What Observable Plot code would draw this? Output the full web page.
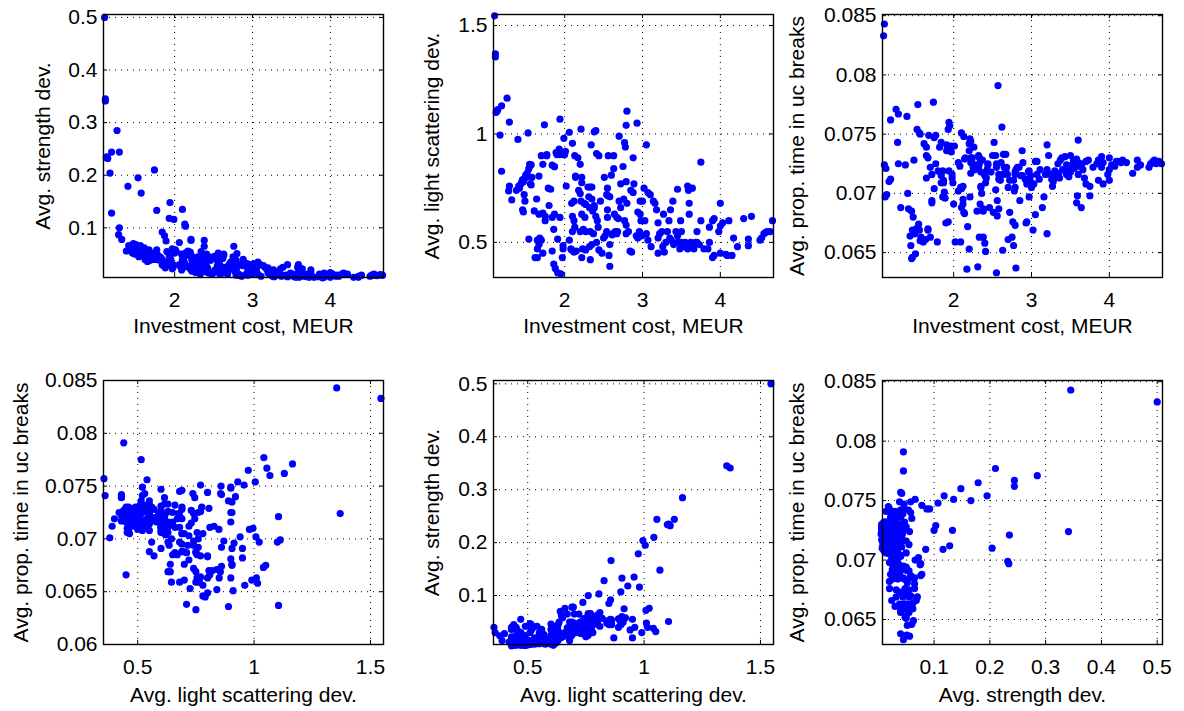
<!DOCTYPE html>
<html>
<head>
<meta charset="utf-8">
<script src="https://cdn.jsdelivr.net/npm/d3@7"></script>
<script src="https://cdn.jsdelivr.net/npm/@observablehq/plot@0.6"></script>
<style>
  html, body { margin: 0; padding: 0; background: #fff; }
  #chart { position: relative; width: 1184px; height: 711px; overflow: hidden; background: #fff; }
  #chart svg { position: absolute; }
</style>
</head>
<body>
<div id="chart"></div>
<script>
// Each row: [investment cost (MEUR), avg. light scattering dev., avg. strength dev., avg. prop. time in uc breaks]
const extremes = [
  [1.10, 1.545, 0.500, 0.0833], [1.11, 1.355, 0.345, 0.0843], [1.11, 1.370, 0.341, 0.0724],
  [1.26, 1.165, 0.285, 0.0771], [1.19, 1.130, 0.244, 0.0762], [1.29, 1.055, 0.244, 0.0767],
  [1.13, 1.105, 0.235, 0.0721], [1.14, 1.112, 0.232, 0.0699], [1.12, 1.100, 0.234, 0.0697],
  [1.17, 0.995, 0.204, 0.0710], [1.53, 1.005, 0.195, 0.0754], [1.74, 1.042, 0.210, 0.0777],
  [1.40, 0.975, 0.179, 0.0765], [1.57, 0.858, 0.166, 0.0750], [1.94, 1.068, 0.148, 0.0760],
  [1.77, 0.905, 0.133, 0.0725], [2.10, 0.957, 0.135, 0.0751], [1.19, 0.828, 0.128, 0.0712],
  [1.93, 0.930, 0.118, 0.0754], [1.99, 0.980, 0.116, 0.0709], [2.13, 0.900, 0.107, 0.0748],
  [2.14, 0.806, 0.103, 0.0729], [1.29, 0.760, 0.100, 0.0725], [1.28, 0.737, 0.087, 0.0743],
  [1.32, 0.696, 0.078, 0.0688], [1.84, 0.856, 0.092, 0.0743], [1.87, 0.849, 0.085, 0.0709],
  [1.89, 0.914, 0.075, 0.0696], [2.06, 1.008, 0.072, 0.0702], [2.21, 1.022, 0.076, 0.0697],
  [2.21, 0.690, 0.078, 0.0746], [2.38, 0.660, 0.076, 0.0687], [2.38, 0.670, 0.065, 0.0685],
  [2.76, 0.700, 0.065, 0.0676], [2.38, 1.010, 0.048, 0.0663], [2.40, 1.015, 0.040, 0.0658],
  [2.79, 1.040, 0.038, 0.0673], [2.80, 1.105, 0.051, 0.0637], [2.93, 1.050, 0.032, 0.0675],
  [2.70, 0.990, 0.030, 0.0661], [3.05, 0.950, 0.020, 0.0682]
];
const costBand1 = [
  [1.42, 0.750, 0.058, 0.0687], [1.44, 0.770, 0.062, 0.0664], [1.45, 0.780, 0.055, 0.0656],
  [1.47, 0.780, 0.060, 0.0646], [1.46, 0.790, 0.052, 0.0645], [1.48, 0.720, 0.065, 0.0680],
  [1.49, 0.690, 0.050, 0.0728], [1.46, 0.650, 0.058, 0.0685], [1.47, 0.640, 0.070, 0.0669],
  [1.50, 0.810, 0.068, 0.0666], [1.51, 0.800, 0.063, 0.0649], [1.52, 0.820, 0.057, 0.0670],
  [1.54, 0.840, 0.052, 0.0671], [1.55, 0.860, 0.047, 0.0674], [1.56, 0.855, 0.055, 0.0669],
  [1.54, 0.515, 0.045, 0.0775], [1.56, 0.770, 0.066, 0.0751], [1.57, 0.765, 0.049, 0.0660],
  [1.58, 0.800, 0.060, 0.0663], [1.64, 0.700, 0.048, 0.0661], [1.61, 0.645, 0.062, 0.0659],
  [1.67, 0.630, 0.044, 0.0669], [1.72, 0.635, 0.050, 0.0694], [1.62, 0.430, 0.040, 0.0742],
  [1.65, 0.430, 0.036, 0.0739], [1.65, 0.510, 0.047, 0.0732], [1.67, 0.490, 0.042, 0.0730],
  [1.65, 0.470, 0.055, 0.0713], [1.68, 0.520, 0.038, 0.0749], [1.70, 0.510, 0.043, 0.0722],
  [1.72, 0.450, 0.040, 0.0716], [1.67, 0.806, 0.058, 0.0670], [1.70, 0.900, 0.052, 0.0663],
  [1.72, 0.860, 0.045, 0.0692], [1.75, 0.620, 0.040, 0.0704], [1.75, 0.600, 0.046, 0.0747],
  [1.77, 0.900, 0.058, 0.0749], [1.79, 0.750, 0.047, 0.0659], [1.82, 0.745, 0.044, 0.0739],
  [1.80, 0.670, 0.039, 0.0719], [1.38, 0.740, 0.056, 0.0724], [1.41, 0.760, 0.066, 0.0700]
];
const costBand2 = [
  [1.84, 0.615, 0.040, 0.0715], [1.87, 0.630, 0.034, 0.0711], [1.84, 0.460, 0.030, 0.0709],
  [1.86, 0.560, 0.036, 0.0697], [1.86, 0.400, 0.028, 0.0719], [1.88, 0.380, 0.024, 0.0701],
  [1.91, 0.360, 0.030, 0.0741], [1.95, 0.355, 0.040, 0.0757], [1.90, 0.905, 0.055, 0.0675],
  [1.93, 0.905, 0.048, 0.0676], [1.97, 0.905, 0.060, 0.0735], [2.00, 0.905, 0.052, 0.0691],
  [1.91, 0.515, 0.035, 0.0736], [1.94, 0.615, 0.042, 0.0719], [1.98, 0.485, 0.025, 0.0716],
  [1.98, 0.470, 0.030, 0.0713], [1.97, 0.430, 0.022, 0.0740], [2.02, 0.760, 0.055, 0.0659],
  [2.01, 0.920, 0.058, 0.0740], [2.06, 0.510, 0.030, 0.0726], [2.08, 0.470, 0.025, 0.0723],
  [2.09, 0.465, 0.020, 0.0705], [2.12, 0.455, 0.035, 0.0706], [2.15, 0.460, 0.028, 0.0730],
  [2.09, 0.680, 0.050, 0.0659], [2.12, 0.690, 0.045, 0.0695], [2.10, 0.620, 0.040, 0.0704],
  [2.12, 0.600, 0.036, 0.0691], [2.10, 0.550, 0.030, 0.0688], [2.13, 0.570, 0.026, 0.0684],
  [2.14, 0.800, 0.052, 0.0683], [2.17, 0.890, 0.056, 0.0636], [2.18, 0.740, 0.048, 0.0672],
  [2.20, 0.725, 0.050, 0.0653], [2.20, 0.860, 0.054, 0.0742], [2.22, 0.800, 0.046, 0.0744],
  [2.22, 0.775, 0.040, 0.0730], [2.25, 0.680, 0.042, 0.0722], [2.27, 0.675, 0.035, 0.0724],
  [2.22, 0.630, 0.030, 0.0726], [2.26, 0.615, 0.028, 0.0739], [2.20, 0.550, 0.022, 0.0736],
  [2.24, 0.560, 0.018, 0.0730], [2.27, 0.550, 0.025, 0.0722], [2.23, 0.470, 0.020, 0.0728],
  [2.27, 0.465, 0.015, 0.0720], [2.22, 0.430, 0.018, 0.0717]
];
const costBand3 = [
  [2.30, 0.755, 0.045, 0.0685], [2.33, 0.755, 0.038, 0.0663], [2.35, 0.755, 0.050, 0.0706],
  [2.31, 0.710, 0.040, 0.0638], [2.35, 0.700, 0.035, 0.0705], [2.32, 0.660, 0.030, 0.0732],
  [2.36, 0.645, 0.028, 0.0700], [2.33, 0.550, 0.022, 0.0730], [2.37, 0.540, 0.018, 0.0728],
  [2.32, 0.480, 0.015, 0.0722], [2.35, 0.490, 0.020, 0.0718], [2.33, 0.420, 0.012, 0.0725],
  [2.34, 0.950, 0.055, 0.0691], [2.41, 0.910, 0.050, 0.0651], [2.44, 0.900, 0.045, 0.0725],
  [2.40, 0.620, 0.030, 0.0715], [2.42, 0.600, 0.025, 0.0713], [2.43, 0.570, 0.020, 0.0720],
  [2.41, 0.500, 0.016, 0.0709], [2.44, 0.465, 0.014, 0.0724], [2.48, 0.450, 0.012, 0.0718],
  [2.46, 0.690, 0.038, 0.0688], [2.51, 0.800, 0.046, 0.0684], [2.56, 0.900, 0.052, 0.0681],
  [2.55, 0.750, 0.045, 0.0633], [2.52, 0.530, 0.020, 0.0743], [2.54, 0.550, 0.018, 0.0732],
  [2.50, 0.520, 0.015, 0.0732], [2.54, 0.720, 0.040, 0.0703], [2.56, 0.715, 0.035, 0.0694],
  [2.58, 0.710, 0.030, 0.0687], [2.55, 0.650, 0.028, 0.0725], [2.55, 0.615, 0.024, 0.0722],
  [2.58, 0.490, 0.012, 0.0716], [2.57, 0.440, 0.045, 0.0791], [2.58, 0.390, 0.015, 0.0712],
  [2.62, 0.540, 0.042, 0.0756], [2.60, 0.810, 0.042, 0.0711], [2.63, 0.840, 0.048, 0.0652],
  [2.63, 0.900, 0.050, 0.0716], [2.65, 0.550, 0.020, 0.0722], [2.67, 0.540, 0.016, 0.0719],
  [2.61, 0.535, 0.014, 0.0726], [2.64, 0.630, 0.025, 0.0733], [2.67, 0.615, 0.022, 0.0733],
  [2.72, 0.770, 0.035, 0.0684], [2.70, 0.690, 0.030, 0.0705], [2.72, 0.660, 0.026, 0.0711],
  [2.69, 0.610, 0.020, 0.0716], [2.68, 0.550, 0.012, 0.0722], [2.75, 0.850, 0.045, 0.0663],
  [2.77, 0.960, 0.040, 0.0656], [2.78, 0.940, 0.035, 0.0702], [2.79, 0.780, 0.030, 0.0705],
  [2.77, 0.600, 0.018, 0.0711], [2.79, 0.580, 0.015, 0.0716], [2.82, 0.550, 0.012, 0.0722],
  [2.79, 0.540, 0.010, 0.0718]
];
const costBand4 = [
  [2.84, 0.460, 0.010, 0.0722], [2.86, 0.455, 0.008, 0.0715], [2.85, 0.740, 0.030, 0.0694],
  [2.88, 0.730, 0.028, 0.0715], [2.80, 0.680, 0.024, 0.0720], [2.89, 0.770, 0.035, 0.0726],
  [2.88, 0.890, 0.040, 0.0736], [2.92, 0.530, 0.012, 0.0712], [2.94, 0.520, 0.010, 0.0708],
  [2.96, 0.550, 0.015, 0.0718], [2.99, 0.530, 0.012, 0.0715], [2.94, 0.640, 0.020, 0.0676],
  [2.97, 0.630, 0.025, 0.0697], [2.98, 0.600, 0.018, 0.0711], [2.97, 0.690, 0.030, 0.0719],
  [3.00, 0.690, 0.028, 0.0705], [3.02, 0.750, 0.032, 0.0669], [3.07, 0.730, 0.035, 0.0727],
  [3.10, 0.720, 0.030, 0.0712], [3.03, 0.600, 0.020, 0.0708], [3.05, 0.540, 0.015, 0.0727],
  [3.07, 0.510, 0.012, 0.0716], [3.11, 0.480, 0.008, 0.0720], [3.14, 0.690, 0.028, 0.0688],
  [3.16, 0.680, 0.025, 0.0697], [3.18, 0.650, 0.022, 0.0716], [3.20, 0.590, 0.018, 0.0720],
  [3.22, 0.540, 0.012, 0.0732], [3.25, 0.550, 0.010, 0.0716], [3.20, 0.520, 0.014, 0.0741],
  [3.26, 0.480, 0.008, 0.0712], [3.20, 0.450, 0.024, 0.0666], [3.28, 0.455, 0.007, 0.0710],
  [3.27, 0.630, 0.020, 0.0706], [3.32, 0.550, 0.012, 0.0714], [3.34, 0.600, 0.015, 0.0725],
  [3.37, 0.510, 0.008, 0.0728], [3.36, 0.650, 0.022, 0.0713], [3.39, 0.690, 0.025, 0.0730],
  [3.43, 0.550, 0.010, 0.0731], [3.45, 0.530, 0.008, 0.0716], [3.45, 0.745, 0.030, 0.0719],
  [3.49, 0.600, 0.014, 0.0722], [3.50, 0.550, 0.010, 0.0732], [3.40, 0.490, 0.009, 0.0720],
  [3.45, 0.500, 0.007, 0.0724], [3.30, 0.500, 0.011, 0.0719], [3.35, 0.520, 0.013, 0.0717],
  [3.48, 0.470, 0.012, 0.0714]
];
const costBand5 = [
  [3.53, 0.490, 0.008, 0.0725], [3.56, 0.490, 0.006, 0.0724], [3.58, 0.760, 0.025, 0.0692],
  [3.59, 0.740, 0.030, 0.0698], [3.64, 0.750, 0.022, 0.0688], [3.60, 0.680, 0.018, 0.0745],
  [3.60, 0.630, 0.015, 0.0716], [3.54, 0.480, 0.007, 0.0728], [3.60, 0.485, 0.006, 0.0726],
  [3.65, 0.480, 0.008, 0.0725], [3.68, 0.500, 0.010, 0.0713], [3.70, 0.500, 0.007, 0.0727],
  [3.73, 0.490, 0.006, 0.0728], [3.70, 0.550, 0.012, 0.0708], [3.75, 0.600, 0.014, 0.0706],
  [3.75, 0.870, 0.020, 0.0698], [3.79, 0.470, 0.006, 0.0722], [3.84, 0.470, 0.007, 0.0725],
  [3.86, 0.500, 0.009, 0.0711], [3.86, 0.570, 0.012, 0.0728], [3.90, 0.600, 0.010, 0.0731],
  [3.92, 0.610, 0.014, 0.0708], [3.90, 0.430, 0.005, 0.0722], [3.92, 0.440, 0.006, 0.0726],
  [4.00, 0.680, 0.015, 0.0711], [3.98, 0.550, 0.010, 0.0716], [4.00, 0.575, 0.008, 0.0720],
  [4.03, 0.590, 0.012, 0.0724], [4.00, 0.450, 0.006, 0.0730], [4.07, 0.445, 0.008, 0.0723],
  [4.09, 0.440, 0.010, 0.0727], [4.15, 0.440, 0.012, 0.0726], [4.11, 0.600, 0.008, 0.0727],
  [4.17, 0.520, 0.014, 0.0728], [4.22, 0.480, 0.012, 0.0726], [4.30, 0.610, 0.006, 0.0717],
  [4.40, 0.620, 0.010, 0.0724], [4.36, 0.515, 0.008, 0.0728], [4.36, 0.485, 0.006, 0.0722],
  [4.51, 0.510, 0.008, 0.0722], [4.53, 0.520, 0.010, 0.0725], [4.56, 0.540, 0.012, 0.0727],
  [4.58, 0.545, 0.010, 0.0728], [4.60, 0.550, 0.009, 0.0725], [4.64, 0.550, 0.011, 0.0727],
  [4.67, 0.600, 0.010, 0.0725], [3.50, 0.500, 0.010, 0.0718], [3.55, 0.500, 0.012, 0.0721],
  [3.62, 0.500, 0.009, 0.0723], [3.58, 0.470, 0.008, 0.0729], [3.66, 0.470, 0.010, 0.0720]
];

// Axis tick values
const costTicks = [2, 3, 4];
const strengthTicks = [0.1, 0.2, 0.3, 0.4, 0.5];
const lightTicks = [0.5, 1, 1.5];
const propTicks = [0.065, 0.07, 0.075, 0.08, 0.085];
const propTicksWide = [0.06, 0.065, 0.07, 0.075, 0.08, 0.085];

// Axis labels
const costLabel = "Investment cost, MEUR";
const lightLabel = "Avg. light scattering dev.";
const strengthLabel = "Avg. strength dev.";
const propLabel = "Avg. prop. time in uc breaks";

const data = [...extremes, ...costBand1, ...costBand2, ...costBand3, ...costBand4, ...costBand5]
  .map(([cost, light, strength, prop]) => ({cost, light, strength, prop}));

// Layout
const colLeft = [103, 493, 882];
const rowTop = [14, 380];
const plotW = 280;
const rowH = [263, 264];
const mL = 100, mT = 14, mR = 10, mB = 66;
const FONT = "'Liberation Sans', Arial, Helvetica, sans-serif";
const FS = 21;

const panels = [
  {col: 0, row: 0, x: "cost", y: "strength", xd: [1.086, 4.683], yd: [0.0056, 0.5055], xt: costTicks, yt: strengthTicks, xl: costLabel, yl: strengthLabel, yo: 60},
  {col: 1, row: 0, x: "cost", y: "light", xd: [1.086, 4.683], yd: [0.338, 1.551], xt: costTicks, yt: lightTicks, xl: costLabel, yl: lightLabel, yo: 61},
  {col: 2, row: 0, x: "cost", y: "prop", xd: [1.086, 4.683], yd: [0.0629, 0.0851], xt: costTicks, yt: propTicks, xl: costLabel, yl: propLabel, yo: 85},
  {col: 0, row: 1, x: "light", y: "prop", xd: [0.353, 1.556], yd: [0.06, 0.085], xt: lightTicks, yt: propTicksWide, xl: lightLabel, yl: propLabel, yo: 82},
  {col: 1, row: 1, x: "light", y: "strength", xd: [0.353, 1.556], yd: [0.0075, 0.5063], xt: lightTicks, yt: strengthTicks, xl: lightLabel, yl: strengthLabel, yo: 61},
  {col: 2, row: 1, x: "strength", y: "prop", xd: [0.0075, 0.5095], yd: [0.0629, 0.0851], xt: strengthTicks, yt: propTicks, xl: strengthLabel, yl: propLabel, yo: 85}
];

const chart = document.getElementById("chart");
const fmt = d => String(d);

for (const p of panels) {
  const h = rowH[p.row];
  const svg = Plot.plot({
    width: mL + plotW + mR,
    height: mT + h + mB,
    marginLeft: mL, marginTop: mT, marginRight: mR, marginBottom: mB,
    style: {fontFamily: FONT, fontSize: FS + "px", background: "transparent", color: "#000", overflow: "visible"},
    x: {type: "linear", domain: p.xd},
    y: {type: "linear", domain: p.yd},
    marks: [
      Plot.gridX(p.xt, {stroke: "#000", strokeOpacity: 1, strokeWidth: 1, strokeDasharray: "1,5"}),
      Plot.gridY(p.yt, {stroke: "#000", strokeOpacity: 1, strokeWidth: 1, strokeDasharray: "1,5"}),
      Plot.tickX(p.xt, {x: d => d, stroke: "#000", insetTop: h - 4}),
      Plot.tickX(p.xt, {x: d => d, stroke: "#000", insetBottom: h - 4}),
      Plot.tickY(p.yt, {y: d => d, stroke: "#000", insetRight: plotW - 4}),
      Plot.tickY(p.yt, {y: d => d, stroke: "#000", insetLeft: plotW - 4}),
      Plot.dot(data, {x: p.x, y: p.y, r: 3.6, fill: "#0000ff", stroke: null}),
      Plot.frame({stroke: "#000", strokeWidth: 1.4}),
      Plot.axisX(p.xt, {anchor: "bottom", tickSize: 0, tickPadding: 15, tickFormat: fmt, label: null, fontSize: FS, fill: "#000"}),
      Plot.axisY(p.yt, {anchor: "left", tickSize: 0, tickPadding: 6, tickFormat: fmt, label: null, fontSize: FS, fill: "#000"}),
      Plot.text([p.xl], {text: d => d, frameAnchor: "bottom", lineAnchor: "middle", textAnchor: "middle", dy: p.row === 0 ? 49 : 51, fontSize: FS, fill: "#000"}),
      Plot.text([p.yl], {text: d => d, frameAnchor: "left", lineAnchor: "middle", textAnchor: "middle", dx: -p.yo, rotate: -90, fontSize: FS, fill: "#000"})
    ]
  });
  svg.style.left = (colLeft[p.col] - mL) + "px";
  svg.style.top = (rowTop[p.row] - mT) + "px";
  chart.appendChild(svg);
}
</script>
</body>
</html>
